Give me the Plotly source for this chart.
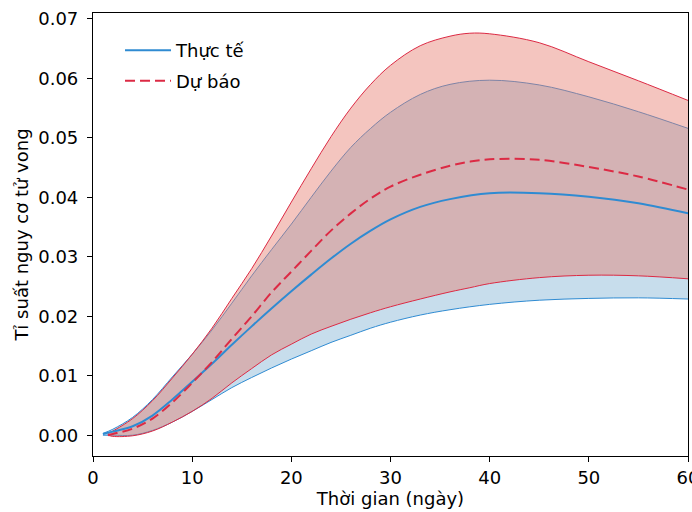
import plotly.graph_objects as go

# ---- data ----
days_blue = [1, 2, 4, 6, 8, 10, 12, 14, 16, 18, 20, 22, 24, 26, 28, 30, 33, 36, 40, 45, 50, 55, 60]
actual_mean = [0.0002, 0.0006, 0.0015, 0.0033, 0.0060, 0.0090, 0.0120, 0.0152, 0.0183, 0.0213, 0.0242,
               0.0270, 0.0297, 0.0322, 0.0344, 0.0363, 0.0384, 0.0397, 0.0407, 0.0407, 0.0401, 0.0390, 0.0373]
actual_upper = [0.0003, 0.0010, 0.0030, 0.0060, 0.0098, 0.0136, 0.0177, 0.0222, 0.0268, 0.0312, 0.0355,
                0.0400, 0.0444, 0.0484, 0.0516, 0.0543, 0.0573, 0.0590, 0.0597, 0.0589, 0.0569, 0.0544, 0.0516]
actual_lower = [0.0000, 0.0000, 0.0000, 0.0008, 0.0022, 0.0040, 0.0060, 0.0080, 0.0097, 0.0113, 0.0128,
                0.0142, 0.0156, 0.0168, 0.0180, 0.0190, 0.0202, 0.0211, 0.0220, 0.0227, 0.0230, 0.0231, 0.0229]

days_red = [1.5, 2, 4, 6, 8, 10, 12, 14, 16, 18, 20, 22, 24, 26, 28, 30, 33, 36, 38, 40, 45, 50, 55, 60]
forecast_mean = [0.0000, 0.0002, 0.0011, 0.0028, 0.0055, 0.0088, 0.0123, 0.0162, 0.0200, 0.0240, 0.0275,
                 0.0310, 0.0344, 0.0373, 0.0398, 0.0418, 0.0438, 0.0453, 0.0460, 0.0464, 0.0463, 0.0451, 0.0435, 0.0413]
forecast_upper = [0.0003, 0.0007, 0.0028, 0.0058, 0.0096, 0.0136, 0.0180, 0.0230, 0.0280, 0.0335, 0.0392,
                  0.0448, 0.0502, 0.0550, 0.0590, 0.0622, 0.0655, 0.0671, 0.0676, 0.0675, 0.0660, 0.0628, 0.0596, 0.0563]
forecast_lower = [0.0000, -0.0002, -0.0001, 0.0007, 0.0022, 0.0040, 0.0062, 0.0088, 0.0112, 0.0135, 0.0153,
                  0.0170, 0.0183, 0.0195, 0.0206, 0.0216, 0.0229, 0.0241, 0.0248, 0.0255, 0.0265, 0.0269, 0.0268, 0.0263]

x_ticks = [0, 10, 20, 30, 40, 50, 60]
y_ticks = [0.00, 0.01, 0.02, 0.03, 0.04, 0.05, 0.06, 0.07]

BLUE = "#2f8bd2"
RED = "#dc2a44"
FONT = "DejaVu Sans"

fig = go.Figure()

# blue band
fig.add_trace(go.Scatter(x=days_blue, y=actual_lower, mode="lines", line=dict(color=BLUE, width=1, shape="spline"),
                         showlegend=False, hoverinfo="skip"))
fig.add_trace(go.Scatter(x=days_blue, y=actual_upper, mode="lines", line=dict(color=BLUE, width=1, shape="spline"),
                         fill="tonexty", fillcolor="rgba(31,119,180,0.25)", showlegend=False, hoverinfo="skip"))
# red band
fig.add_trace(go.Scatter(x=days_red, y=forecast_lower, mode="lines", line=dict(color=RED, width=1, shape="spline"),
                         showlegend=False, hoverinfo="skip"))
fig.add_trace(go.Scatter(x=days_red, y=forecast_upper, mode="lines", line=dict(color=RED, width=1, shape="spline"),
                         fill="tonexty", fillcolor="rgba(230,123,110,0.44)", showlegend=False, hoverinfo="skip"))
# means
fig.add_trace(go.Scatter(x=days_blue, y=actual_mean, mode="lines", name="Thực tế", legendgroup="a",
                         line=dict(color=BLUE, width=2, shape="spline")))
fig.add_trace(go.Scatter(x=days_red, y=forecast_mean, mode="lines", name="Dự báo", legendgroup="b",
                         line=dict(color=RED, width=2, dash="10px,5px", shape="spline")))

axis_common = dict(showline=True, linecolor="black", linewidth=1.2, mirror=True, ticks="outside",
                   ticklen=5, tickcolor="black", showgrid=False, zeroline=False, automargin=False,
                   tickfont=dict(family=FONT, size=18, color="black"))

fig.update_xaxes(range=[0, 60], tickvals=x_ticks, ticktext=[str(v) for v in x_ticks],
                 ticklabelstandoff=0, ticklabeloverflow="allow",
                 title=dict(text="Thời gian (ngày)", font=dict(family=FONT, size=18, color="black"), standoff=4),
                 **axis_common)
fig.update_yaxes(range=[-0.0035, 0.071], tickvals=y_ticks, ticktext=[f"{v:.2f}" for v in y_ticks],
                 ticklabelstandoff=5,
                 title=dict(text="Tỉ suất nguy cơ tử vong", font=dict(family=FONT, size=18, color="black"), standoff=4),
                 **axis_common)

fig.update_layout(
    width=692, height=512,
    margin=dict(l=93, r=4, t=13, b=56),
    plot_bgcolor="white", paper_bgcolor="white",
    font=dict(family=FONT, size=18, color="black"),
    legend=dict(x=0.0454, y=0.957, xanchor="left", yanchor="top", bgcolor="rgba(255,255,255,0)",
                traceorder="grouped", itemwidth=46,
                font=dict(family=FONT, size=18, color="black"), tracegroupgap=4),
)

fig.write_html("out.html", config={"displayModeBar": False},
               post_script="document.body.style.margin='0';document.body.style.overflow='hidden';")
